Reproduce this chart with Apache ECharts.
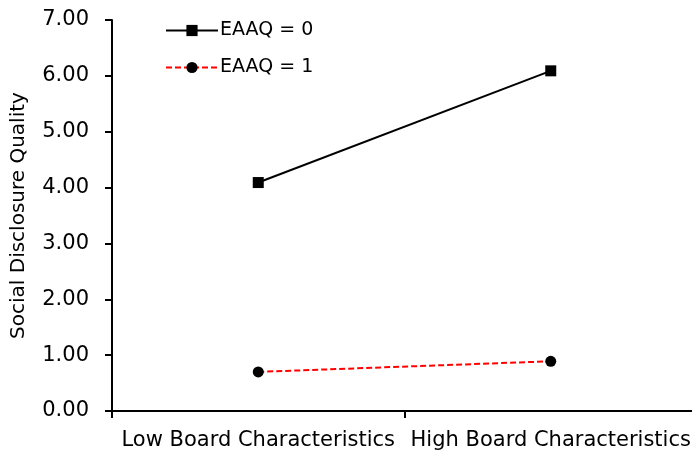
<!DOCTYPE html>
<html><head><meta charset="utf-8">
<script src="https://cdn.jsdelivr.net/npm/echarts@6/dist/echarts.min.js"></script>
<style>html,body{margin:0;padding:0;background:#fff}#c{width:692px;height:454px}</style>
</head><body><div id="c"></div>
<script>
const categories = ['Low Board Characteristics', 'High Board Characteristics'];
const eaaq0 = [4.09, 6.09];
const eaaq1 = [0.70, 0.89];
const seriesNames = ['EAAQ = 0', 'EAAQ = 1'];
const yTitle = 'Social Disclosure Quality';
const FONT = 'DejaVu Sans';
const chart = echarts.init(document.getElementById('c'));
chart.setOption({
  animation: false,
  textStyle: {fontFamily: FONT},
  grid: {left: 112, width: 585, top: 20, height: 391, containLabel: false, outerBoundsMode: 'none'},
  legend: {
    left: 160, top: 16, orient: 'vertical', itemGap: 18, itemWidth: 52, itemHeight: 14,
    textStyle: {fontSize: 19, color: '#000', fontFamily: FONT, padding: [0,0,0,-3]},
    data: seriesNames
  },
  xAxis: {
    type: 'category', data: categories, boundaryGap: true,
    axisLine: {lineStyle: {color: '#000', width: 2}},
    axisTick: {show: true, length: 7, inside: false, lineStyle: {color: '#000', width: 2}},
    axisLabel: {color: '#000', fontSize: 21, margin: 19, fontFamily: FONT, interval: 0}
  },
  yAxis: {
    type: 'value', min: 0, max: 7, interval: 1,
    name: yTitle, nameLocation: 'middle', nameGap: 83,
    nameTextStyle: {fontSize: 20, color: '#000', fontFamily: FONT},
    axisLine: {show: true, lineStyle: {color: '#000', width: 2}},
    axisTick: {show: true, length: 7, lineStyle: {color: '#000', width: 2}},
    splitLine: {show: false},
    axisLabel: {color: '#000', fontSize: 21, margin: 23, fontFamily: FONT,
      formatter: v => v.toFixed(2)}
  },
  series: [
    {name: seriesNames[0], type: 'line', data: eaaq0, symbol: 'rect', symbolSize: 11,
     lineStyle: {color: '#000', width: 2}, itemStyle: {color: '#000'}},
    {name: seriesNames[1], type: 'line', data: eaaq1, symbol: 'circle', symbolSize: 11,
     lineStyle: {color: '#ff0000', width: 2, type: [6, 3]}, itemStyle: {color: '#000'}}
  ]
});
</script></body></html>
